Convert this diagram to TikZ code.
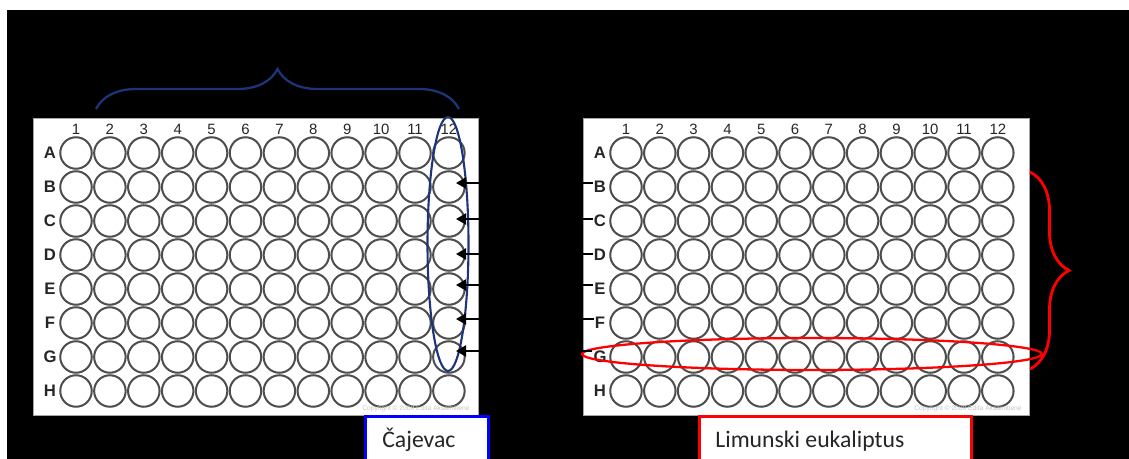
\documentclass[tikz,border=0pt]{standalone}
\usepackage{fontspec}
\setmainfont{Liberation Sans}
\newfontfamily\calibri{Carlito}
\usepackage{xcolor}
\usetikzlibrary{positioning,calc,arrows.meta,decorations.pathreplacing}
\definecolor{navy}{RGB}{30,52,120}
\definecolor{wellgray}{RGB}{78,78,78}

\begin{document}
\begin{tikzpicture}[x=0.02cm, y=-0.02cm,
    plate/.style={rectangle, draw=gray!70, fill=white, line width=0.6pt, minimum width=8.92cm, minimum height=5.96cm},
    well/.style={circle, draw=wellgray, line width=1.15pt, minimum size=0.63cm, inner sep=0pt},
    colnum/.style={font=\fontsize{8.5}{8.5}\selectfont, text=black!85, inner sep=0.5pt},
    rowlbl/.style={font=\fontsize{9.5}{9}\selectfont\bfseries, text=black!85, inner sep=0.5pt},
    copynote/.style={font=\fontsize{3.8}{4}\selectfont, text=gray!45, anchor=east, inner sep=0pt},
    labelbox/.style={rectangle, fill=white, line width=1.5pt, minimum height=0.94cm, anchor=north west},
    labeltext/.style={font=\calibri\fontsize{13.5}{13.5}\selectfont, text=black!85, anchor=base west, inner sep=0pt},
    arr/.style={-{Triangle[length=0.2cm,width=0.22cm]}, line width=1.2pt}]

    \fill[white] (0,0) rectangle (1129,459);
    \fill[black] (7,10) rectangle (1129,459);
    \useasboundingbox (0,0) rectangle (1129,459);

    \node (lplate) [plate] at (256,267) {};
    \node (rplate) [plate] at (806.5,267) {};

    \foreach \c in {1,...,12} {
        \node (Ln\c) [colnum] at ({76+(\c-1)*33.9},129) {\c};
        \node (Rn\c) [colnum] at ({626+(\c-1)*33.8},129) {\c};
    }
    \foreach \r [count=\i] in {A,B,C,D,E,F,G,H} {
        \node (Lr\r) [rowlbl] at (50,{153+(\i-1)*34}) {\r};
        \node (Rr\r) [rowlbl] at (600,{153+(\i-1)*34}) {\r};
        \foreach \c in {1,...,12} {
            \node (L\r\c) [well] at ({76+(\c-1)*33.9},{153+(\i-1)*34}) {};
            \node (R\r\c) [well] at ({626+(\c-1)*33.8},{153+(\i-1)*34}) {};
        }
    }

    \node (lcopy) [copynote] at (470,409) {Copyright \textcopyright{} 2009 Edita Aksamitiene};
    \node (rcopy) [copynote] at (1022,409) {Copyright \textcopyright{} 2009 Edita Aksamitiene};

    \draw[navy, line width=1.2pt] (448,244) ellipse [x radius=0.41cm, y radius=2.54cm];
    \draw[red, line width=1.3pt] (812,354) ellipse [x radius=4.6cm, y radius=0.32cm];

    \draw[navy, line width=1.3pt, decorate, decoration={brace, amplitude=0.8cm}] (96,109) -- (459,109);
    \draw[red, line width=1.6pt, decorate, decoration={brace, amplitude=0.78cm}] (1030,172) -- (1030,369);

    \foreach \r/\y in {B/183,C/219,D/254,E/285,F/319,G/351} {
        \coordinate (as\r) at (481,\y);
        \coordinate (ae\r) at (456,\y);
        \draw[arr] (as\r) -- (ae\r);
        \coordinate (ts\r) at (578,\y);
        \draw[line width=1.3pt] (ts\r) -- (ts\r -| Rr\r.west);
    }

    \node (cajbox) [labelbox, draw=blue, minimum width=2.46cm] at (364,415) {};
    \node (cajtxt) [labeltext] at (382,447) {Čajevac};
    \node (limbox) [labelbox, draw=red, minimum width=5.44cm] at (698,415) {};
    \node (limtxt) [labeltext] at (715,447) {Limunski eukaliptus};
\end{tikzpicture}
\end{document}
